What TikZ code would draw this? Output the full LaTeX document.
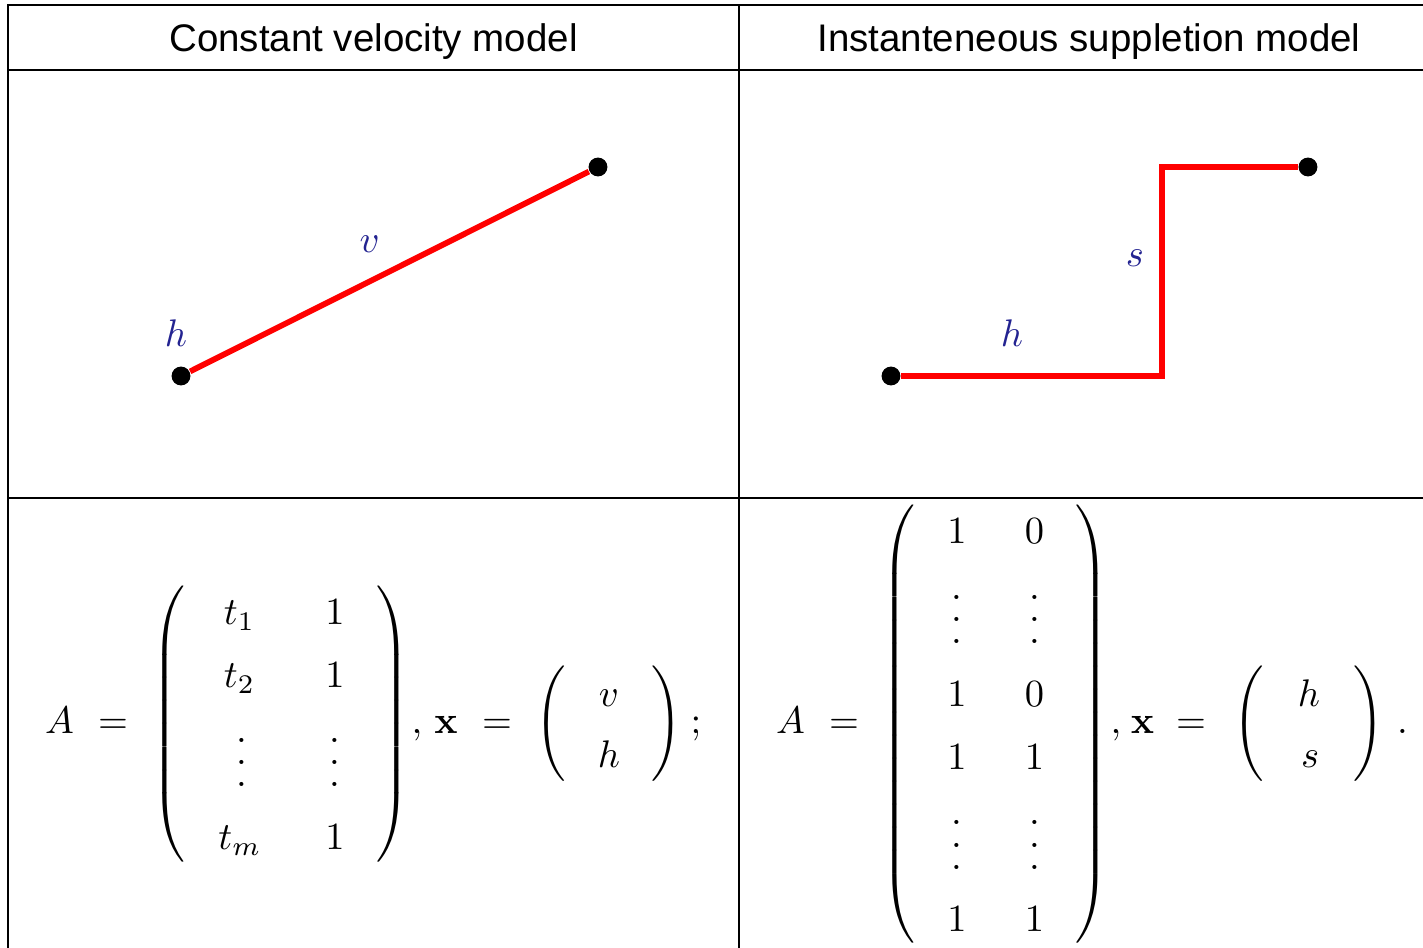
\documentclass[tikz,border=0pt]{standalone}
\usepackage[no-math]{fontspec}
\newfontfamily\hdrfont{Liberation Sans}
\definecolor{lblblue}{RGB}{35,35,145}
\newcommand\vdts{\vbox{\baselineskip=5.75pt\lineskiplimit=0pt\hbox{.}\hbox{.}\hbox{.}}}
\newcommand\lpar[1]{$\delimiterfactor=1000\delimitershortfall=0pt\nulldelimiterspace=0pt\left(\vcenter{\hrule height #1 width 0pt}\right.$}
\newcommand\rpar[1]{$\delimiterfactor=1000\delimitershortfall=0pt\nulldelimiterspace=0pt\left.\vcenter{\hrule height #1 width 0pt}\right)$}
\begin{document}
\begin{tikzpicture}[x=0.26pt,y=-0.26pt,
  tbl/.style={line width=0.6pt},
  hdr/.style={font=\hdrfont, anchor=base, inner sep=0pt},
  ment/.style={anchor=base, inner sep=0pt},
  mc/.style={anchor=center, inner sep=0pt},
  lbl/.style={anchor=base, inner sep=0pt, text=lblblue},
  redline/.style={red, line width=1.5pt},
  blackdot/.style={circle, fill=black, inner sep=0pt, minimum size=4.9pt}]
\useasboundingbox (0,0) rectangle (1423,948);
\clip (0,0) rectangle (1423,948);
% table
\draw[tbl] (8,960) -- (8,5) -- (1440,5);
\draw[tbl] (8,70) -- (1440,70);
\draw[tbl] (8,498) -- (1440,498);
\draw[tbl] (739,5) -- (739,960);
% headers
\node[hdr] (h1) at (373.5,51.5) {Constant velocity model};
\node[hdr] (h2) at (1089,51.5) {Instanteneous suppletion model};
% top-left panel
\node[blackdot] (cvA) at (181,376) {};
\node[blackdot] (cvB) at (598,167) {};
\draw[redline] (cvA) -- (cvB);
\node[lbl] (cvh) at (176,346.7) {$h$};
\node[lbl] (cvv) at (369.7,253) {$v$};
% top-right panel
\node[blackdot] (isA) at (891,376) {};
\node[blackdot] (isB) at (1308,167) {};
\coordinate (isC1) at (1162,376);
\coordinate (isC2) at (1162,167);
\draw[redline] (isA) -- (isC1) -- (isC2) -- (isB);
\node[lbl] (ish) at (1012,347) {$h$};
\node[lbl] (iss) at (1135,267) {$s$};
% bottom-left formula
\node[ment] (LA) at (59.5,734) {$A$};
\node[ment] (Leq) at (113,734) {$=$};
\node[mc] (Llp) at (168,724) {\lpar{71pt}};
\node[ment] (Lt1) at (239.5,624.7) {$t_1$};
\node[ment] (Lt2) at (239.5,687.3) {$t_2$};
\node[mc] (Lvd1) at (242,762.7) {\vdts};
\node[ment] (Ltm) at (240,850) {$t_m$};
\node[ment] (L12) at (335,624.7) {$1$};
\node[ment] (L22) at (335,687.3) {$1$};
\node[mc] (Lvd2) at (335,762.7) {\vdts};
\node[ment] (Lm2) at (335,850) {$1$};
\node[mc] (Lrp) at (393.5,724) {\rpar{71pt}};
\node[ment] (Lcomma) at (417,734) {$,$};
\node[ment] (Lx) at (446,734) {$\mathbf{x}$};
\node[ment] (Leq2) at (497,734) {$=$};
\node[mc] (Lslp) at (551,724) {\lpar{29pt}};
\node[ment] (Lv) at (609,707) {$v$};
\node[ment] (Lh) at (609,768) {$h$};
\node[mc] (Lsrp) at (666.5,724) {\rpar{29pt}};
\node[ment] (Lsemi) at (696,734) {$;$};
% bottom-right formula
\node[ment] (RA) at (790.5,734) {$A$};
\node[ment] (Req) at (844,734) {$=$};
\node[mc] (Rlp) at (898,724) {\lpar{113pt}};
\node[ment] (R11) at (957,544) {$1$};
\node[ment] (R12) at (1034.5,544) {$0$};
\node[mc] (Rvd11) at (957,619.3) {\vdts};
\node[mc] (Rvd12) at (1034.5,619.3) {\vdts};
\node[ment] (R31) at (957,707) {$1$};
\node[ment] (R32) at (1034.5,707) {$0$};
\node[ment] (R41) at (957,770) {$1$};
\node[ment] (R42) at (1034.5,770) {$1$};
\node[mc] (Rvd21) at (957,845) {\vdts};
\node[mc] (Rvd22) at (1034.5,845) {\vdts};
\node[ment] (R61) at (957,932) {$1$};
\node[ment] (R62) at (1034.5,932) {$1$};
\node[mc] (Rrp) at (1092.5,724) {\rpar{113pt}};
\node[ment] (Rcomma) at (1116,734) {$,$};
\node[ment] (Rx) at (1142.5,734) {$\mathbf{x}$};
\node[ment] (Req2) at (1191,734) {$=$};
\node[mc] (Rslp) at (1248.5,724) {\lpar{29pt}};
\node[ment] (Rh) at (1309,707) {$h$};
\node[ment] (Rs) at (1310,768) {$s$};
\node[mc] (Rsrp) at (1368.5,724) {\rpar{29pt}};
\node[ment] (Rdot) at (1402.5,734) {$.$};
\end{tikzpicture}
\end{document}
